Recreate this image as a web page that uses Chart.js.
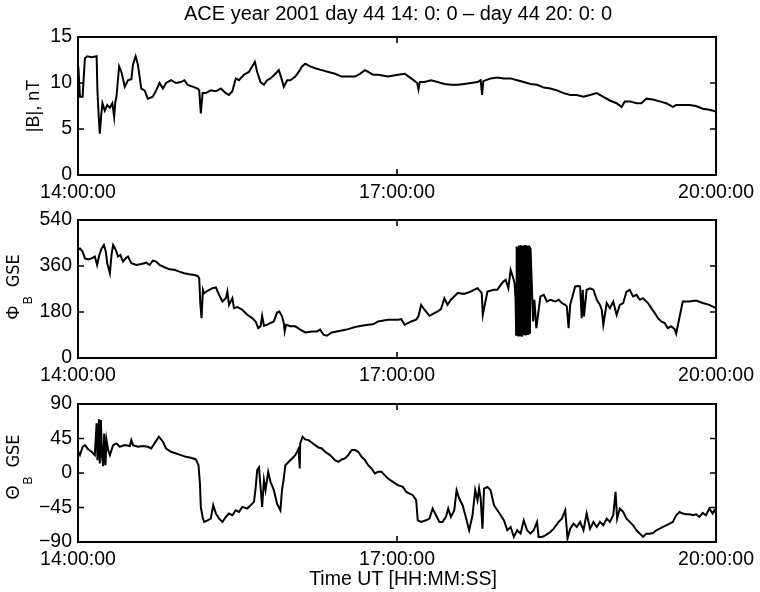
<!DOCTYPE html>
<html>
<head>
<meta charset="utf-8">
<title>ACE magnetic field, 2001 day 44</title>
<script src="https://cdn.jsdelivr.net/npm/chart.js@4/dist/chart.umd.min.js"></script>
<style>
  html, body { margin: 0; padding: 0; background: #fff; }
  #wrap { position: relative; width: 760px; height: 592px; }
  #wrap canvas { position: absolute; left: 0; }
</style>
</head>
<body>
<div id="wrap">
  <canvas id="panelB" width="760" height="200" style="top:0px"></canvas>
  <canvas id="panelPhi" width="760" height="185" style="top:200px"></canvas>
  <canvas id="panelTheta" width="760" height="207" style="top:385px"></canvas>
</div>
<script>
// Time axis: minutes after 14:00:00 UT
const timeTicks = [0, 180, 360];
const startHour = 14;

// |B| (nT)
const bTime = [0.2,1.1,2.6,3.9,5.2,7.7,10.5,11.0,11.8,12.3,13.1,13.8,15.1,16.5,18.0,19.4,20.4,21.1,21.7,23.2,24.5,26.4,28.2,30.1,31.0,32.5,33.8,35.7,37.6,39.4,42.2,44.1,46.0,47.9,49.7,52.5,55.3,58.1,60.0,61.9,64.7,67.5,68.4,69.3,70.3,72.1,74.9,77.8,80.6,83.4,85.2,87.1,89.0,90.8,93.6,96.4,98.3,99.8,101.1,103.0,104.9,106.7,108.6,111.4,113.3,114.8,116.1,118.0,119.8,122.6,124.5,126.4,128.2,131.0,133.8,137.6,141.3,145.0,148.8,152.5,156.3,159.1,161.9,163.7,166.5,169.3,174.9,180.5,184.3,188.0,191.4,192.1,192.9,195.5,199.2,202.9,206.7,210.4,214.2,217.9,221.6,225.4,227.2,228.0,228.7,232.8,236.6,240.3,244.1,247.8,251.5,255.3,259.0,262.8,266.5,270.2,274.0,277.7,281.4,285.2,288.9,292.7,296.4,300.1,303.9,306.7,308.5,311.4,315.1,317.9,320.7,324.4,328.2,331.9,335.6,337.5,341.2,345.0,348.7,352.5,356.2,360.0];
const bField = [11.8,8.5,8.5,12.7,12.9,12.8,12.9,9.0,6.0,4.5,6.5,7.8,7.0,7.6,7.3,7.8,6.3,8.0,8.5,11.8,11.2,9.6,10.3,10.4,12.0,12.9,12.0,9.4,9.2,8.3,8.5,9.2,10.0,9.4,10.0,10.3,10.0,10.1,10.3,9.8,9.6,9.4,9.2,6.7,8.9,8.9,9.2,9.1,9.4,8.9,8.7,9.1,10.5,10.3,10.9,11.2,11.8,12.3,11.2,10.1,9.8,10.3,10.5,11.0,11.4,10.5,9.6,10.3,10.3,10.7,11.2,11.8,12.1,11.8,11.6,11.4,11.2,11.0,10.7,10.7,10.7,11.0,11.4,11.2,10.9,10.9,10.7,10.9,11.0,10.5,10.0,9.3,10.1,10.1,10.3,10.1,9.9,9.8,9.8,9.9,10.0,10.1,10.3,8.7,10.2,10.5,10.6,10.5,10.5,10.3,10.1,9.9,9.8,9.5,9.4,9.2,8.9,8.7,8.7,8.5,8.7,8.9,8.5,8.1,7.8,7.4,8.0,8.0,7.8,7.8,8.3,8.2,8.0,7.8,7.4,7.6,7.6,7.6,7.5,7.2,7.1,6.9];
const bTicks = [0, 5, 10, 15];

// Phi_B GSE (degrees)
const phiTime = [0.2,1.1,2.6,3.9,5.8,7.7,9.5,10.8,12.0,13.3,14.6,15.7,16.5,18.0,18.9,19.8,21.3,22.6,23.9,25.4,26.9,28.2,30.1,32.9,35.7,38.5,40.4,42.2,44.1,46.0,48.8,51.6,54.4,57.2,60.0,62.8,65.6,67.5,68.4,69.0,69.7,70.5,71.2,73.1,75.9,77.8,79.6,81.5,83.4,84.3,85.2,87.1,88.0,89.9,92.7,95.5,98.3,100.2,101.7,103.0,103.9,104.9,106.7,108.6,110.5,112.3,113.6,115.1,116.1,116.6,117.4,119.8,122.6,125.4,128.2,132.0,134.8,136.6,138.5,140.4,143.2,146.0,148.8,152.5,156.3,160.0,163.7,166.5,169.3,174.9,180.5,182.4,184.3,188.0,190.8,192.1,193.6,195.5,198.3,201.1,202.9,204.8,206.7,208.5,210.4,214.2,217.9,221.6,223.5,225.4,227.2,227.8,228.4,231.0,234.7,236.6,238.5,240.0,241.3,242.8,244.1,245.6,246.3,246.9,247.2,247.5,247.8,248.1,248.4,248.7,249.0,249.3,249.6,249.9,250.2,250.5,250.8,251.1,251.4,251.7,252.0,252.3,252.6,252.9,253.2,253.5,253.8,254.1,254.4,254.7,255.0,255.3,256.8,257.5,258.6,260.9,262.8,264.6,266.5,269.3,271.2,273.0,274.9,275.8,276.8,277.7,280.5,282.4,283.3,284.2,284.8,285.5,287.0,288.9,290.8,292.7,294.5,295.5,296.4,298.3,300.1,302.0,303.9,305.7,307.6,309.5,311.3,313.2,315.1,317.0,318.8,321.6,323.5,325.4,327.2,329.1,331.0,332.8,334.7,336.6,337.5,341.2,345.0,348.7,352.5,356.2,360.0];
const phiValues = [423,429,416,390,386,390,397,364,403,429,442,416,371,332,403,442,423,397,403,377,390,397,371,364,368,373,364,381,377,364,355,347,345,338,332,328,325,321,312,215,156,267,254,263,273,276,247,221,234,260,208,234,195,199,189,169,156,143,117,124,165,126,130,137,143,178,182,163,137,104,130,124,124,111,100,104,104,111,91,87,100,104,108,113,121,126,130,132,143,150,150,152,130,143,150,163,208,189,165,176,182,191,234,208,228,254,251,260,267,273,260,254,169,260,267,267,286,299,306,273,345,312,293,228,91,436,95,430,88,440,92,438,90,441,87,437,93,440,89,436,91,442,88,439,94,437,90,440,92,436,95,430,143,228,117,241,247,221,228,221,228,215,208,202,117,208,280,282,280,156,267,163,267,273,267,228,208,189,130,215,195,221,169,208,215,260,267,241,247,228,234,215,195,176,156,143,137,117,124,113,95,221,221,225,215,208,195,182];
const phiTicks = [0, 180, 360, 540];

// Theta_B GSE (degrees)
const thetaTime = [0.2,1.1,2.6,3.9,5.8,7.7,9.5,10.5,11.0,11.8,12.3,12.9,13.6,14.2,14.8,15.5,16.1,17.0,18.0,18.9,19.8,21.7,23.6,26.4,29.2,30.1,31.0,33.8,36.6,39.4,41.3,43.2,45.6,47.9,49.7,52.5,55.3,58.1,60.9,63.7,66.5,68.0,68.8,69.3,70.3,71.2,73.1,74.9,76.3,77.8,79.6,81.5,83.4,85.2,87.1,89.0,90.8,92.7,95.5,97.4,99.3,100.2,101.1,102.1,103.0,103.9,104.9,105.8,107.3,108.6,110.5,112.3,114.2,115.1,116.1,117.0,118.9,120.8,122.6,124.5,125.1,125.4,126.7,128.2,130.1,132.0,133.8,135.7,137.6,139.4,142.2,145.0,146.9,148.8,150.6,152.5,154.4,156.3,158.1,160.0,161.9,163.7,165.6,167.5,169.3,171.2,173.0,174.9,177.7,180.5,183.3,185.2,187.1,188.9,190.8,191.7,193.6,196.4,198.3,200.1,202.0,203.9,205.7,207.6,208.9,210.4,212.3,213.6,215.1,217.0,218.8,220.7,222.6,224.1,225.4,226.3,227.2,228.2,229.1,231.0,232.8,234.7,236.6,238.5,240.3,242.2,244.1,245.9,247.8,249.7,251.5,253.4,255.3,257.1,259.0,259.9,261.8,263.7,266.5,268.4,271.2,273.0,274.9,276.2,277.7,279.6,281.4,283.3,285.2,287.0,288.9,290.8,292.7,294.5,296.4,298.3,300.1,302.0,303.3,304.2,305.7,307.6,309.5,311.3,313.2,315.1,317.0,318.8,320.7,322.6,324.4,326.3,328.2,330.0,331.9,333.8,335.6,337.5,339.4,341.2,343.1,345.0,346.9,348.7,350.6,352.5,354.3,356.2,358.1,359.0,360.0];
const thetaValues = [27.7,23.3,34.2,36.4,30.7,27.7,23.3,64.7,16.8,70.0,12.4,69.1,21.1,8.9,51.6,10.2,42.9,29.9,23.3,29.9,36.4,38.6,34.2,36.4,35.1,42.9,36.4,34.2,35.1,34.2,32.0,38.6,47.3,40.8,32.0,27.7,25.5,23.3,21.1,19.8,17.7,10.2,-13.7,-44.2,-57.3,-63.8,-61.7,-59.5,-42.0,-52.9,-59.5,-63.8,-57.3,-52.9,-55.1,-48.6,-50.8,-44.2,-46.4,-42.0,-37.7,-20.3,3.7,7.2,-18.1,-44.2,-9.4,-22.4,1.5,-11.5,-22.4,-39.9,-48.6,-22.4,-7.2,10.2,14.6,19.0,23.3,32.0,5.9,38.6,47.3,43.8,42.9,39.4,36.4,33.3,32.0,27.7,23.3,16.8,14.6,17.7,19.0,23.3,29.9,29.9,27.7,21.1,16.8,10.2,5.9,-0.6,1.5,1.5,-2.8,-7.2,-11.5,-15.9,-18.1,-24.6,-26.8,-29.0,-35.5,-61.7,-63.8,-61.7,-59.5,-46.4,-55.1,-63.8,-63.8,-57.3,-46.4,-57.3,-48.6,-22.4,-33.3,-42.0,-57.3,-74.7,-55.1,-22.4,-35.5,-20.3,-33.3,-72.6,-20.3,-18.1,-22.4,-42.0,-48.6,-55.1,-61.7,-74.7,-70.4,-83.4,-74.7,-79.1,-61.7,-74.7,-79.1,-74.7,-63.8,-83.4,-83.4,-81.3,-76.9,-72.6,-63.8,-59.5,-48.6,-85.6,-72.6,-66.0,-70.4,-63.8,-74.7,-52.9,-72.6,-63.8,-70.4,-63.8,-68.2,-59.5,-63.8,-55.1,-24.6,-59.5,-46.4,-50.8,-59.5,-63.8,-68.2,-74.7,-79.1,-83.4,-79.1,-79.1,-78.2,-74.7,-72.6,-70.4,-68.2,-66.0,-63.8,-55.1,-50.8,-52.9,-53.8,-53.8,-55.1,-53.8,-57.3,-52.1,-55.1,-46.4,-52.9,-48.6,-52.0];
const thetaTicks = [-90, -45, 0, 45, 90];

const plotTitle = 'ACE year 2001 day 44 14: 0: 0 \u2013 day 44 20: 0: 0';
const timeAxisTitle = 'Time UT [HH:MM:SS]';

const FONT = '"Liberation Sans", Arial, Helvetica, sans-serif';
const NARROW = '"Liberation Sans Narrow", "Arial Narrow", "DejaVu Sans Condensed", sans-serif';

function hhmmss(min) {
  const total = Math.round(min * 60) + startHour * 3600;
  const h = Math.floor(total / 3600), m = Math.floor((total % 3600) / 60), s = total % 60;
  const p = n => String(n).padStart(2, '0');
  return p(h) + ':' + p(m) + ':' + p(s);
}
function signed(v) { return v < 0 ? '\u2212' + Math.abs(v) : String(v); }

// Box frame, inward ticks and the extra texts of each panel
const panelDecor = {
  id: 'panelDecor',
  afterDatasetsDraw(chart, args, opts) {
    const { ctx, chartArea: a, scales } = chart;
    ctx.save();
    ctx.strokeStyle = '#000';
    ctx.lineWidth = 1.6;
    const L = 6;
    ctx.beginPath();
    scales.x.ticks.forEach(t => {
      const px = scales.x.getPixelForValue(t.value);
      ctx.moveTo(px, a.bottom); ctx.lineTo(px, a.bottom - L);
      ctx.moveTo(px, a.top); ctx.lineTo(px, a.top + L);
    });
    scales.y.ticks.forEach(t => {
      const py = scales.y.getPixelForValue(t.value);
      ctx.moveTo(a.left, py); ctx.lineTo(a.left + L, py);
      ctx.moveTo(a.right, py); ctx.lineTo(a.right - L, py);
    });
    ctx.stroke();
    ctx.lineWidth = 2;
    ctx.strokeRect(a.left, a.top, a.right - a.left, a.bottom - a.top);

    ctx.fillStyle = '#000';
    // rotated y-axis title, built from pieces (each with its own font, drop and gap)
    if (opts.yTitle) {
      const parts = opts.yTitle;
      let total = 0;
      parts.forEach(p => { ctx.font = p.font; p.w = ctx.measureText(p.text).width; total += p.w + (p.gap || 0); });
      ctx.translate(opts.yBaseline, (a.top + a.bottom) / 2 + (opts.yShift || 0));
      ctx.rotate(-Math.PI / 2);
      ctx.textBaseline = 'alphabetic';
      ctx.textAlign = 'left';
      let x = -total / 2;
      parts.forEach(p => {
        ctx.font = p.font;
        ctx.fillText(p.text, x, p.drop || 0);
        x += p.w + (p.gap || 0);
      });
      ctx.setTransform(1, 0, 0, 1, 0, 0);
    }
    ctx.textAlign = 'center';
    ctx.textBaseline = 'middle';
    if (opts.topText) { ctx.font = '20px ' + FONT; ctx.fillText(opts.topText, (a.left + a.right) / 2 + 1, opts.topY); }
    if (opts.bottomText) { ctx.font = '19.5px ' + FONT; ctx.fillText(opts.bottomText, (a.left + a.right) / 2 + 6, opts.bottomY); }
    ctx.restore();
  }
};

function makePanel(id, times, values, ticks, areaTop, areaBottom, decor) {
  const canvas = document.getElementById(id);
  const points = times.map((t, i) => ({ x: t, y: values[i] }));
  return new Chart(canvas, {
    type: 'line',
    data: { datasets: [{ data: points, borderColor: '#000', borderWidth: 2, pointRadius: 0, tension: 0, fill: false }] },
    options: {
      responsive: false,
      animation: false,
      events: [],
      layout: { padding: { top: areaTop, right: 40, left: 0, bottom: 0 } },
      plugins: { legend: { display: false }, tooltip: { enabled: false }, panelDecor: decor },
      scales: {
        x: {
          type: 'linear', min: timeTicks[0], max: timeTicks[timeTicks.length - 1],
          afterBuildTicks: s => { s.ticks = timeTicks.map(v => ({ value: v })); },
          afterFit: s => { s.height = canvas.height - areaBottom; },
          grid: { display: false, drawTicks: false },
          border: { display: false },
          ticks: { autoSkip: false, maxRotation: 0, padding: 6, color: '#000', font: { family: FONT, size: 19.5 }, callback: v => hhmmss(v) }
        },
        y: {
          type: 'linear', min: ticks[0], max: ticks[ticks.length - 1],
          afterBuildTicks: s => { s.ticks = ticks.map(v => ({ value: v })); },
          afterFit: s => { s.width = 78; },
          grid: { display: false, drawTicks: false },
          border: { display: false },
          ticks: { autoSkip: false, padding: 6, color: '#000', font: { family: FONT, size: 19.5 }, callback: v => signed(v) }
        }
      }
    },
    plugins: [panelDecor]
  });
}

makePanel('panelB', bTime, bField, bTicks, 37, 175, {
  topText: plotTitle, topY: 14,
  yTitle: [{ text: '|B|, nT', font: '18px ' + FONT }], yBaseline: 39
});
makePanel('panelPhi', phiTime, phiValues, phiTicks, 20, 158, {
  yTitle: [
    { text: '\u03A6', font: '18px ' + FONT, gap: 1 },
    { text: 'B', font: '12px ' + FONT, drop: 13, gap: 9 },
    { text: 'GSE', font: '18px ' + NARROW }
  ],
  yBaseline: 19, yShift: -2
});
makePanel('panelTheta', thetaTime, thetaValues, thetaTicks, 19, 157, {
  yTitle: [
    { text: '\u0398', font: '18px ' + FONT, gap: 1 },
    { text: 'B', font: '12px ' + FONT, drop: 13, gap: 9 },
    { text: 'GSE', font: '18px ' + NARROW }
  ],
  yBaseline: 19, yShift: -6,
  bottomText: timeAxisTitle, bottomY: 195
});
</script>
</body>
</html>
